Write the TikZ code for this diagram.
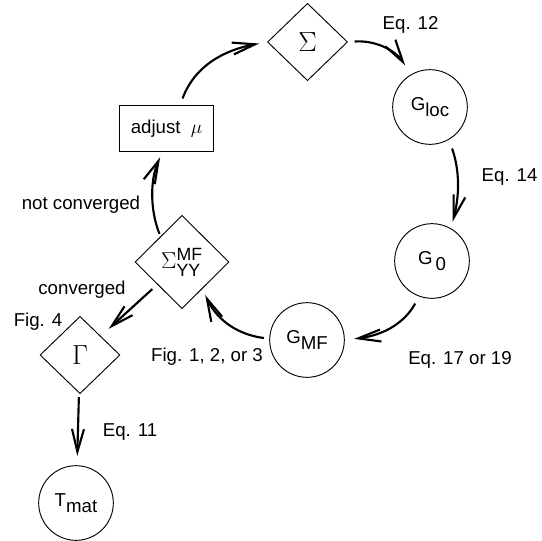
\documentclass[tikz,border=0pt]{standalone}
\usepackage{amsmath}
\usepackage{fontspec}
\setmainfont{Liberation Sans}
\usetikzlibrary{shapes.geometric,arrows.meta}
\newcommand\dn[1]{\raisebox{-0.6ex}{#1}}

\begin{document}
\begin{tikzpicture}[x=0.75pt,y=0.75pt,yscale=-1,xscale=1,
  every node/.style={font=\fontsize{14}{16}\selectfont},
  quantity/.style={circle,draw,line width=0.7pt,minimum size=56pt,inner sep=0pt},
  choice/.style={diamond,draw,line width=0.7pt,minimum width=60pt,minimum height=58pt,inner sep=0pt},
  flow/.style={line width=1.6pt,-{Straight Barb[length=17pt,width=9pt]}},
]
\path[use as bounding box] (0,0) rectangle (542,540);

%Shapes
\node[choice] (sig) at (307.5,42) {\fontsize{22}{22}\selectfont$\Sigma$};
\node[quantity] (gloc) at (430,107) {G\dn{loc}};
\node[quantity] (gnull) at (432,261) {G\,\dn{0}};
\node[quantity] (gmf) at (307,340) {G\dn{MF}};
\node[choice,minimum width=70.5pt,minimum height=70pt,font=\fontsize{19}{19}\selectfont] (syy) at (182,262) {$\Sigma^{\text{MF}}_{\text{YY}}$};
\node[choice] (gam) at (80,355) {\fontsize{22}{22}\selectfont$\Gamma$};
\node[quantity] (tmat) at (76,503) {T\dn{mat}};
\node[draw,line width=0.7pt,minimum width=71pt,minimum height=35pt] (adj) at (166.5,128.5) {adjust~~$\mu$};

%Curve Lines
\draw[flow,shorten <=5pt,shorten >=6pt] (adj.60) .. controls (195,65) and (225,50) .. (sig.west);
\draw[flow,shorten <=5pt,shorten >=8pt] (sig.east) .. controls (375,40) and (395,50) .. (gloc.120);
\draw[flow,shorten <=7pt,shorten >=5pt] (gloc.-60) .. controls (458,165) and (461,190) .. (gnull.60);
\draw[flow,shorten <=6pt,shorten >=7pt] (gnull.-110) .. controls (405,322) and (385,335) .. (gmf.0);
\draw[flow,shorten <=4pt,shorten >=5pt] (gmf.178) .. controls (240,335) and (218,322) .. (syy.-53);
\draw[flow,shorten <=2pt,shorten >=4pt] (syy.130) .. controls (150,210) and (150,180) .. (adj.-100);
%Straight Lines
\draw[flow,shorten <=5pt,shorten >=8pt] (syy) -- (gam);
\draw[flow,shorten <=3pt,shorten >=7pt] (gam) -- (tmat);

% Text Node
\node[anchor=west] (eq12) at (378,25) {Eq. 12};
\node[anchor=west] (eq14) at (477,177) {Eq. 14};
\node (eq17) at (460,360) {Eq. 17 or 19};
\node (fig123) at (207,357) {Fig. 1, 2, or 3};
\node (conv) at (82,290) {converged};
\node (fig4) at (38,322) {Fig. 4};
\node (notconv) at (81,205) {not converged};
\node (eq11) at (130,432) {Eq. 11};

\end{tikzpicture}
\end{document}
